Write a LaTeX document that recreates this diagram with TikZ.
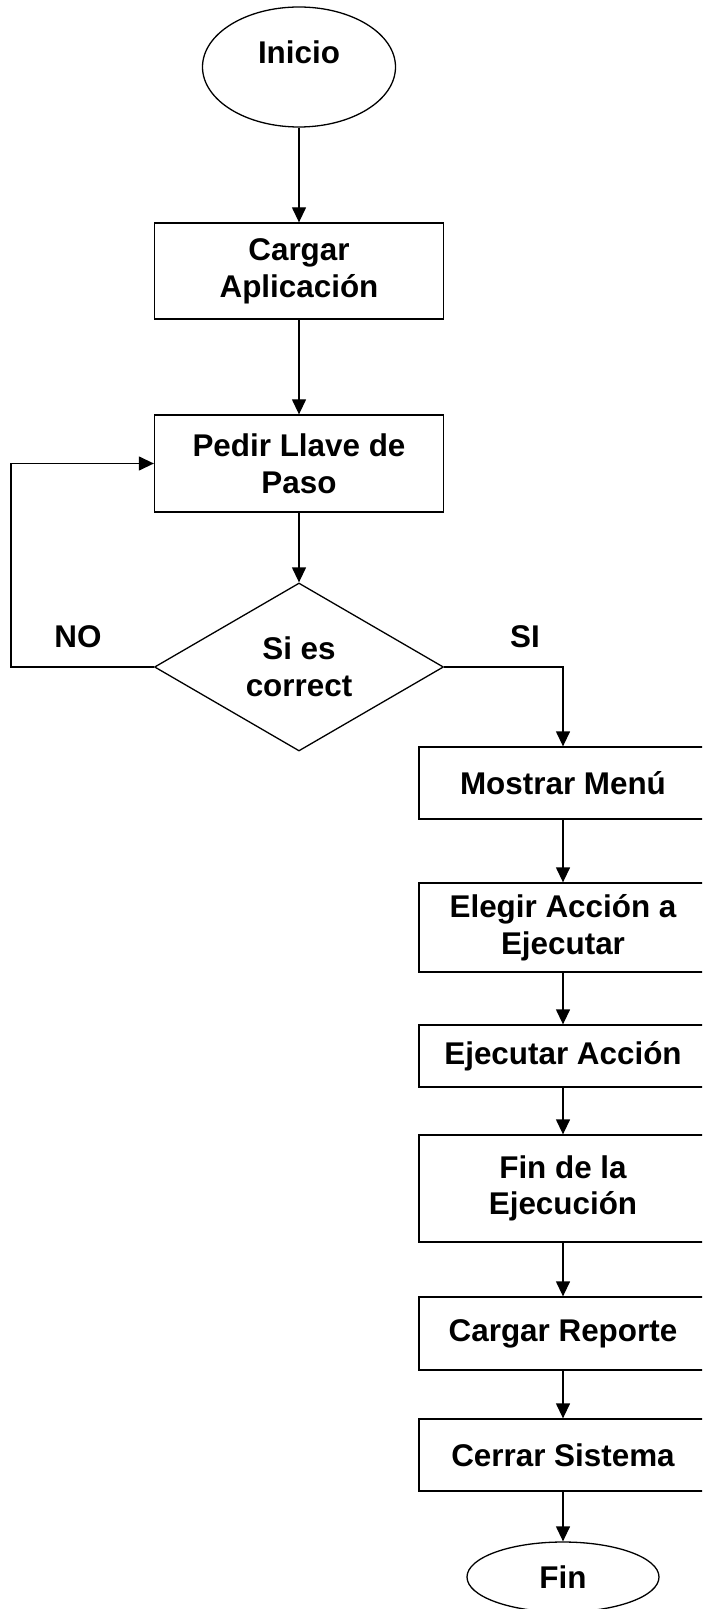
\documentclass[tikz,border=0pt]{standalone}
\usepackage{fontspec}
\setmainfont{Liberation Sans}
\usetikzlibrary{shapes.geometric,arrows.meta}

\tikzset{
  flow/.style={line width=0.65pt},
  arr/.style={flow,-{Triangle[length=7.5pt,width=7pt]}},
  stepbox/.style={draw,line width=0.65pt,rectangle,inner sep=0pt,
    align=center,minimum width=#1},
  stepbox/.default=144.5pt,
  term/.style={draw,line width=0.65pt,ellipse,inner sep=0pt},
  decision/.style={draw,line width=0.65pt,diamond,inner sep=0pt,align=center},
  tag/.style={inner sep=0pt},
}

\begin{document}
\begin{tikzpicture}[x=0.5pt,y=-0.5pt,
  every node/.append style={font=\bfseries\fontsize{15.7}{18.3}\selectfont}]
  \useasboundingbox (0,0) rectangle (702,1609);
  \clip (0,0) rectangle (702,1609);

  % main column
  \node[term,minimum width=96.5pt,minimum height=60pt,
        label={[tag,yshift=7.5pt]center:Inicio}] (inicio) at (299,67) {};
  \node[stepbox,minimum height=48pt] (cargar) at (299,271) {Cargar\\Aplicación};
  \node[stepbox,minimum height=48.5pt] (pedir) at (299,463.5) {Pedir Llave de\\Paso};
  \node[decision,minimum width=144.5pt,minimum height=84pt] (dec) at (299,667) {Si es\\correct};

  \node[tag] (no) at (78,637) {NO};
  \node[tag] (si) at (525,637) {SI};
  \coordinate (loop) at (11,667);

  % right column
  \node[stepbox=144pt,minimum height=36pt] (menu) at (563,783) {Mostrar Menú};
  \node[stepbox=144pt,minimum height=44.5pt] (elegir) at (563,927.5) {Elegir Acción a\\Ejecutar};
  \node[stepbox=144pt,minimum height=31pt] (ejec) at (563,1056) {Ejecutar Acción};
  \node[stepbox=144pt,minimum height=53.5pt] (finej) at (563,1188.5) {Fin de la\\Ejecución};
  \node[stepbox=144pt,minimum height=36.5pt] (reporte) at (563,1333.5) {Cargar Reporte};
  \node[stepbox=144pt,minimum height=36pt] (cerrar) at (563,1455) {Cerrar Sistema};
  \node[term,minimum width=96pt,minimum height=35pt] (fin) at (563,1577) {Fin};

  % connectors
  \draw[arr] (inicio) -- (cargar);
  \draw[arr] (cargar) -- (pedir);
  \draw[arr] (pedir) -- (dec);
  \draw[arr] (dec.west) -- (loop) |- (pedir.west);
  \draw[arr] (dec.east) -| (menu.north);
  \draw[arr] (menu) -- (elegir);
  \draw[arr] (elegir) -- (ejec);
  \draw[arr] (ejec) -- (finej);
  \draw[arr] (finej) -- (reporte);
  \draw[arr] (reporte) -- (cerrar);
  \draw[arr] (cerrar) -- (fin);
\end{tikzpicture}
\end{document}
